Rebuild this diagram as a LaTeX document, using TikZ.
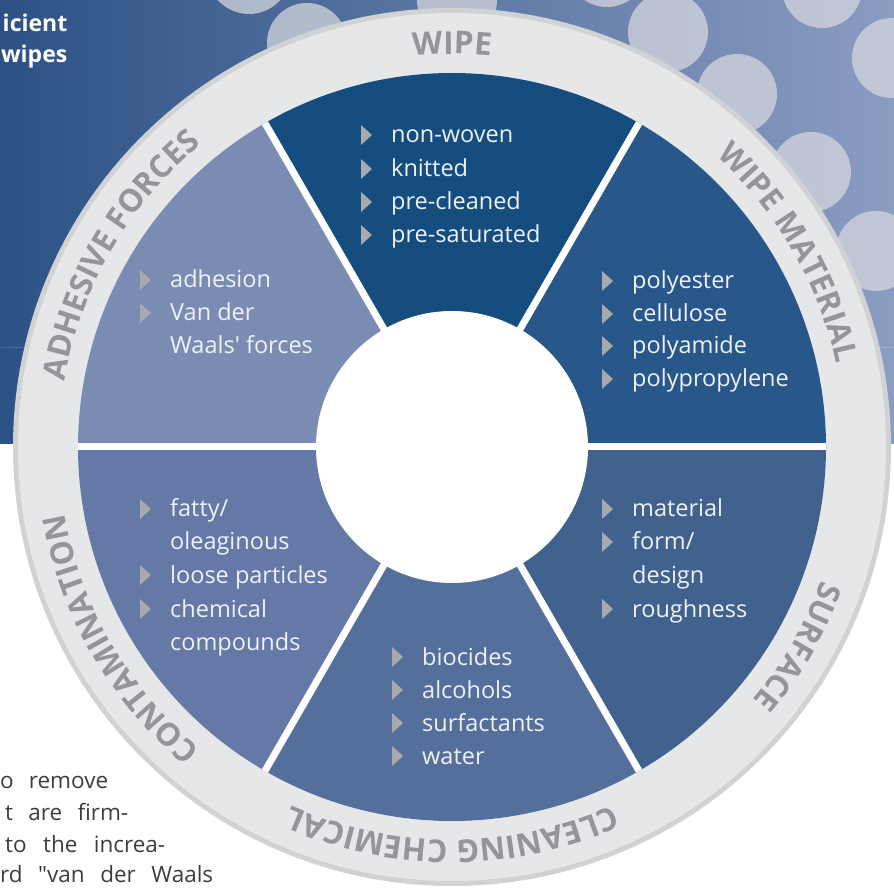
\documentclass[tikz,border=0pt]{standalone}
\usepackage{fontspec}
\setmainfont{Open Sans}
\usetikzlibrary{decorations.text}
\definecolor{bgleft}{HTML}{2C5285}
\definecolor{bgright}{HTML}{8B9CC1}
\definecolor{bubblegray}{HTML}{D4D6DD}
\definecolor{rimgray}{HTML}{D1D2D4}
\definecolor{ringfill}{HTML}{E6E7E9}
\definecolor{ringgray}{HTML}{939598}
\definecolor{bulletgray}{HTML}{A7A9AC}
\definecolor{itemwhite}{HTML}{EEF1F6}
\definecolor{pagegray}{HTML}{3D3D3D}
\definecolor{wipecol}{HTML}{154D7E}
\definecolor{matcol}{HTML}{285889}
\definecolor{surfcol}{HTML}{41628F}
\definecolor{chemcol}{HTML}{546F9B}
\definecolor{contcol}{HTML}{6479A6}
\definecolor{adhcol}{HTML}{7B8CB3}
\newcommand\ringfont{\fontsize{31.5}{32}\selectfont\bfseries}
\newcommand\parfont{\fontsize{22.5}{26}\selectfont}
\tikzset{
	% list entries inside the sectors
	item/.style={anchor=base west,inner sep=0pt,text=itemwhite,font=\fontsize{23.5}{28}\selectfont},
	bullet/.pic={\fill[bulletgray] (0,-10) -- (11,0) -- (0,10) -- cycle;},
	% white gaps between the sectors
	sep/.style={white,line width=7pt},
	% curved labels in the grey ring
	ringtext/.style={decorate,decoration={text along path,text align=center,text color=ringgray,text={|\ringfont|#1}}},
	bubble/.style={fill=bubblegray,fill opacity=0.75},
	% page text around the figure
	head/.style={anchor=base east,inner sep=0pt,text=white,font=\fontsize{23}{28}\selectfont\bfseries},
	parline/.style={anchor=base west,inner sep=0pt,text=pagegray},
}

\begin{document}
\begin{tikzpicture}[x=1pt,y=1pt]
\useasboundingbox (0,0) rectangle (894,887);
% page background with the bubbles
\shade[left color=bgleft,right color=bgright] (0,443) rectangle (894,887);
\foreach \x/\y/\r in {249/-28/42,307/43/40,457/0/40,607/-33/40,668/32/40,737/94/40,822/-12/40,892/58/40,811/172/40,876/251/40}
  \fill[bubble] (\x,{887-\y}) circle[radius=\r pt];
\draw[white,opacity=0.15,line width=0.8pt] (0,540) -- (894,540);
% the wheel
\coordinate (c) at (452,440);
\fill[rimgray] (c) circle[radius=439pt];
\fill[ringfill] (c) circle[radius=434pt];
\foreach \a/\col in {60/wipecol,0/matcol,-60/surfcol,-120/chemcol,180/contcol,120/adhcol}
  \fill[\col] (c) -- ++(\a:374pt) arc[start angle=\a,end angle=\a+60,radius=374pt] -- cycle;
\foreach \a in {0,60,...,300}
  \draw[sep] (c) -- ++(\a:374pt);
\node[circle,fill=white,minimum size=272pt,inner sep=0pt] (hub) at (c) {};
% sector labels
\path[ringtext=WIPE,shift={(c)}] (140:393pt) arc[start angle=140,end angle=40,radius=393pt];
\path[ringtext=WIPE MATERIAL,shift={(c)}] (80:393pt) arc[start angle=80,end angle=-20,radius=393pt];
\path[ringtext=SURFACE,shift={(c)}] (20:393pt) arc[start angle=20,end angle=-80,radius=393pt];
\path[ringtext=CLEANING CHEMICAL,shift={(c)}] (-40:393pt) arc[start angle=-40,end angle=-140,radius=393pt];
\path[ringtext=CONTAMINATION,shift={(c)}] (260:393pt) arc[start angle=260,end angle=160,radius=393pt];
\path[ringtext=ADHESIVE FORCES,shift={(c)}] (200:393pt) arc[start angle=200,end angle=100,radius=393pt];
% wipe
\foreach \y/\txt/\bul [count=\idx] in {143/non-woven/1,177/knitted/1,210/pre-cleaned/1,243/pre-saturated/1}{
  \node[item] (wipe\idx) at (391,{887-\y}) {\txt};
  \ifnum\bul=1 \pic at (361,{895-\y}) {bullet};\fi
}
% wipe material
\foreach \y/\txt/\bul [count=\idx] in {289/polyester/1,322/cellulose/1,354/polyamide/1,387/polypropylene/1}{
  \node[item] (mat\idx) at (632,{887-\y}) {\txt};
  \ifnum\bul=1 \pic at (602,{895-\y}) {bullet};\fi
}
% surface
\foreach \y/\txt/\bul [count=\idx] in {517/material/1,550/{form/}/1,583/design/0,617/roughness/1}{
  \node[item] (surf\idx) at (632,{887-\y}) {\txt};
  \ifnum\bul=1 \pic at (602,{895-\y}) {bullet};\fi
}
% cleaning chemical
\foreach \y/\txt/\bul [count=\idx] in {665/biocides/1,698/alcohols/1,731/surfactants/1,764/water/1}{
  \node[item] (chem\idx) at (422,{887-\y}) {\txt};
  \ifnum\bul=1 \pic at (392,{895-\y}) {bullet};\fi
}
% contamination
\foreach \y/\txt/\bul [count=\idx] in {517/{fatty/}/1,550/oleaginous/0,583/loose particles/1,617/chemical/1,650/compounds/0}{
  \node[item] (cont\idx) at (170,{887-\y}) {\txt};
  \ifnum\bul=1 \pic at (140,{895-\y}) {bullet};\fi
}
% adhesive forces
\foreach \y/\txt/\bul [count=\idx] in {288/adhesion/1,321/Van der/1,354/Waals\textquotesingle{} forces/0}{
  \node[item] (adh\idx) at (170,{887-\y}) {\txt};
  \ifnum\bul=1 \pic at (140,{895-\y}) {bullet};\fi
}
% cut-off page text
\node[head] (head1) at (67.5,855) {icient};
\node[head] (head2) at (67.5,824) {wipes};
\node[parline] (par1) at (0,99) {\hbox to 108pt{\parfont o\hfill remove}};
\node[parline] (par2) at (5,67) {\hbox to 123pt{\parfont t\hfill are\hfill firm-}};
\node[parline] (par3) at (5,35) {\hbox to 160pt{\parfont to\hfill the\hfill increa-}};
\node[parline] (par4) at (0,5) {\hbox to 213pt{\parfont rd\hfill \textquotedbl van\hfill der\hfill Waals}};
\end{tikzpicture}
\end{document}
